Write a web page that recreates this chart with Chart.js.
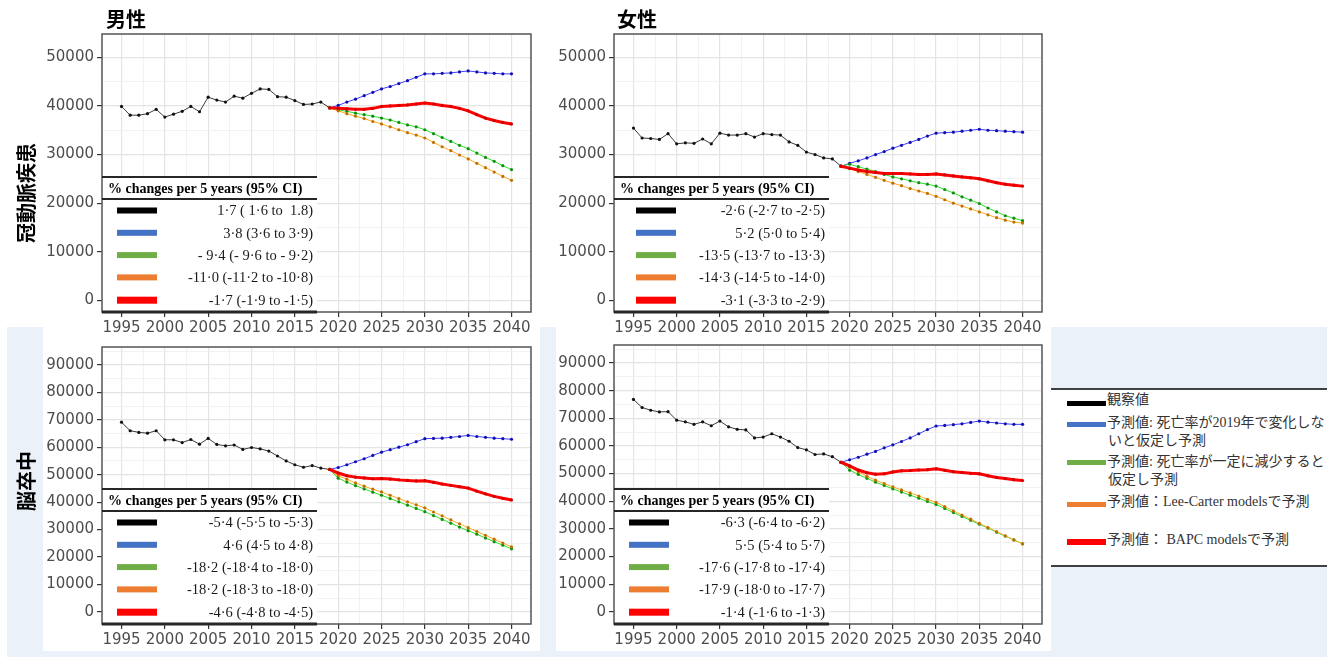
<!DOCTYPE html>
<html>
<head>
<meta charset="utf-8">
<script src="https://cdn.jsdelivr.net/npm/chart.js"></script>
<style>
  body { margin: 0; width: 1341px; height: 657px; position: relative; overflow: hidden; background: #fff; }
  .abs { position: absolute; }
  .blue { background: #eaf1f9; }
  .white { background: #fff; }
  .coltitle { font: bold 20px "Noto Sans CJK JP"; color: #000; line-height: 24px; }
  .rowlabel { font: bold 20px "Noto Sans CJK JP"; color: #000; white-space: nowrap; line-height: 24px;
              transform: translate(-50%, -50%) rotate(-90deg); }
  .rule { height: 2px; background: #404040; }
  .sw { width: 39px; height: 5px; }
  .lg { font: 14px "Liberation Serif", "Noto Sans CJK JP"; color: #333; white-space: nowrap; line-height: 18px; transform: translateY(-50%); }
</style>
</head>
<body>
<!-- backgrounds -->
<div class="abs blue" style="left:7px; top:327px; width:1320px; height:330px;"></div>
<div class="abs white" style="left:43px; top:327px; width:497px; height:324px;"></div>
<div class="abs white" style="left:556px; top:327px; width:495px; height:324px;"></div>
<div class="abs white" style="left:1051px; top:389px; width:276px; height:177px;"></div>

<!-- charts -->
<canvas id="c1" class="abs" style="left:0; top:0;" width="540" height="340"></canvas>
<canvas id="c2" class="abs" style="left:540px; top:0;" width="510" height="340"></canvas>
<canvas id="c3" class="abs" style="left:0; top:327px;" width="540" height="330"></canvas>
<canvas id="c4" class="abs" style="left:540px; top:327px;" width="510" height="330"></canvas>

<!-- titles -->
<div class="abs coltitle" style="left:106px; top:7px;">男性</div>
<div class="abs coltitle" style="left:617px; top:7px;">女性</div>
<div class="abs rowlabel" style="left:26px; top:193px;">冠動脈疾患</div>
<div class="abs rowlabel" style="left:26px; top:481px;">脳卒中</div>

<!-- legend -->
<div class="abs rule" style="left:1051px; top:388px; width:276px;"></div>
<div class="abs rule" style="left:1051px; top:565px; width:276px;"></div>
<div class="abs sw" style="left:1067px; top:401px; background:#000;"></div>
<div class="abs sw" style="left:1067px; top:422px; background:#4472c4;"></div>
<div class="abs sw" style="left:1067px; top:460px; background:#70ad47;"></div>
<div class="abs sw" style="left:1067px; top:502px; background:#ed7d31;"></div>
<div class="abs sw" style="left:1067px; top:539px; height:6px; background:#ff0000;"></div>
<div class="abs lg" style="left:1107px; top:400px;">観察値</div>
<div class="abs lg" style="left:1107px; top:423px;">予測値: 死亡率が2019年で変化しな</div>
<div class="abs lg" style="left:1108px; top:441px;">いと仮定し予測</div>
<div class="abs lg" style="left:1107px; top:462px;">予測値: 死亡率が一定に減少すると</div>
<div class="abs lg" style="left:1108px; top:480px;">仮定し予測</div>
<div class="abs lg" style="left:1107px; top:502px;">予測値：Lee-Carter modelsで予測</div>
<div class="abs lg" style="left:1107px; top:540px;">予測値： BAPC modelsで予測</div>

<script>
// years
const obsYears = [1995, 1996, 1997, 1998, 1999, 2000, 2001, 2002, 2003, 2004, 2005, 2006, 2007,
                  2008, 2009, 2010, 2011, 2012, 2013, 2014, 2015, 2016, 2017, 2018, 2019];
const projYears = [2019, 2020, 2021, 2022, 2023, 2024, 2025, 2026, 2027, 2028, 2029, 2030,
                   2031, 2032, 2033, 2034, 2035, 2036, 2037, 2038, 2039, 2040];
const xTicks = [1995, 1997.5, 2000, 2002.5, 2005, 2007.5, 2010, 2012.5, 2015, 2017.5, 2020,
                2022.5, 2025, 2027.5, 2030, 2032.5, 2035, 2037.5, 2040];
const yTicksChd = [0, 5000, 10000, 15000, 20000, 25000, 30000, 35000, 40000, 45000, 50000];
const yTicksStroke = [0, 5000, 10000, 15000, 20000, 25000, 30000, 35000, 40000, 45000, 50000,
                      55000, 60000, 65000, 70000, 75000, 80000, 85000, 90000, 95000];

// 男性 冠動脈疾患
const maleChdObs = [39900, 38100, 38100, 38400, 39300, 37700, 38300, 38900, 39900, 38800, 41800, 41200, 40800,
                    42000, 41600, 42600, 43500, 43400, 41900, 41800, 41100, 40300, 40400, 40800, 39600];
const maleChdFixed = [39600, 40100, 40800, 41400, 42100, 42800, 43500, 44000, 44600, 45200, 45900, 46600,
                      46600, 46700, 46800, 47000, 47200, 47000, 46800, 46700, 46600, 46600];
const maleChdDecline = [39600, 39200, 38900, 38500, 38200, 37900, 37500, 37100, 36600, 36100, 35700, 35100,
                        34300, 33500, 32700, 31900, 31200, 30300, 29400, 28600, 27700, 26900];
const maleChdLeeCarter = [39600, 39000, 38400, 37900, 37400, 36800, 36300, 35700, 35100, 34500, 34000, 33400,
                          32500, 31600, 30800, 29900, 29100, 28200, 27300, 26400, 25500, 24700];
const maleChdBapc = [39600, 39500, 39400, 39300, 39300, 39500, 39900, 40000, 40100, 40200, 40400, 40600,
                     40400, 40100, 39900, 39500, 39000, 38200, 37500, 37000, 36600, 36300];
const maleChdPct = ['1·7 ( 1·6 to  1.8)', '3·8 (3·6 to 3·9)', '- 9·4 (- 9·6 to - 9·2)',
                    '-11·0 (-11·2 to -10·8)', '-1·7 (-1·9 to -1·5)'];

// 女性 冠動脈疾患
const femaleChdObs = [35450, 33400, 33300, 33100, 34300, 32200, 32400, 32300, 33200, 32200, 34400, 34000, 34000,
                      34300, 33600, 34300, 34100, 34000, 32600, 31900, 30500, 30000, 29300, 29100, 27600];
const femaleChdFixed = [27600, 28200, 28700, 29300, 30000, 30600, 31300, 31900, 32500, 33100, 33800, 34400,
                        34500, 34600, 34800, 35000, 35200, 35000, 34900, 34800, 34700, 34600];
const femaleChdDecline = [27600, 28000, 27500, 27000, 26500, 25900, 25400, 25000, 24600, 24200, 23900, 23500,
                          22800, 22100, 21300, 20600, 19900, 19000, 18200, 17400, 16900, 16400];
const femaleChdLeeCarter = [27600, 27100, 26500, 25900, 25300, 24700, 24100, 23600, 23000, 22500, 22000, 21400,
                            20700, 20000, 19400, 18800, 18200, 17600, 17000, 16500, 16100, 15900];
const femaleChdBapc = [27600, 27200, 26800, 26500, 26300, 26100, 26100, 26100, 26000, 25900, 25900, 26000,
                       25800, 25600, 25400, 25200, 25000, 24600, 24200, 23900, 23700, 23500];
const femaleChdPct = ['-2·6 (-2·7 to -2·5)', '5·2 (5·0 to 5·4)', '-13·5 (-13·7 to -13·3)',
                      '-14·3 (-14·5 to -14·0)', '-3·1 (-3·3 to -2·9)'];

// 男性 脳卒中
const maleStrokeObs = [69100, 66000, 65400, 65100, 66000, 62700, 62700, 61700, 62800, 61100, 63200, 61000, 60500,
                       60800, 59200, 59900, 59400, 58600, 56800, 55000, 53600, 52700, 53300, 52400, 51900];
const maleStrokeFixed = [51900, 52600, 53600, 54700, 55800, 57000, 58200, 59100, 60000, 60900, 62000, 63100,
                         63200, 63300, 63600, 63900, 64300, 63900, 63600, 63300, 63100, 62900];
const maleStrokeDecline = [51900, 48700, 47300, 46000, 44800, 43600, 42500, 41300, 40100, 38900, 37700, 36500,
                           35100, 33700, 32300, 30900, 29600, 28300, 26900, 25600, 24300, 23000];
const maleStrokeLeeCarter = [51900, 49600, 48300, 47000, 45800, 44700, 43700, 42500, 41300, 40100, 39000, 37900,
                             36400, 35000, 33500, 32100, 30700, 29300, 27900, 26500, 25100, 23700];
const maleStrokeBapc = [51900, 50600, 49600, 49100, 48800, 48500, 48600, 48400, 48100, 47900, 47700, 47800,
                        47200, 46600, 46100, 45600, 45100, 44000, 43000, 42100, 41400, 40800];
const maleStrokePct = ['-5·4 (-5·5 to -5·3)', '4·6 (4·5 to 4·8)', '-18·2 (-18·4 to -18·0)',
                       '-18·2 (-18·3 to -18·0)', '-4·6 (-4·8 to -4·5)'];

// 女性 脳卒中
const femaleStrokeObs = [76800, 73900, 72900, 72300, 72400, 69300, 68700, 67800, 68700, 67300, 69000, 66900, 66000,
                         65800, 62900, 63200, 64400, 63200, 61700, 59400, 58600, 56900, 57100, 56100, 54100];
const femaleStrokeFixed = [54100, 55000, 55900, 57000, 58000, 59300, 60400, 61600, 62900, 64400, 65900, 67200,
                           67400, 67700, 68000, 68500, 69000, 68600, 68300, 68000, 67800, 67800];
const femaleStrokeDecline = [54100, 51200, 49700, 48300, 46900, 45700, 44500, 43300, 42200, 41100, 39900, 38800,
                             37400, 35900, 34500, 33100, 31700, 30300, 28800, 27400, 26000, 24600];
const femaleStrokeLeeCarter = [54100, 52300, 50600, 49000, 47600, 46400, 45200, 44100, 43000, 41900, 40700, 39600,
                               38100, 36500, 35000, 33500, 32000, 30500, 29000, 27500, 26000, 24600];
const femaleStrokeBapc = [54100, 52800, 51300, 50300, 49800, 49900, 50600, 51000, 51100, 51300, 51400, 51700,
                          51200, 50700, 50400, 50100, 49900, 49200, 48600, 48200, 47800, 47500];
const femaleStrokePct = ['-6·3 (-6·4 to -6·2)', '5·5 (5·4 to 5·7)', '-17·6 (-17·8 to -17·4)',
                         '-17·9 (-18·0 to -17·7)', '-1·4 (-1·6 to -1·3)'];

const swatchColors = ['#000000', '#4472c4', '#70ad47', '#ed7d31', '#ff0000'];

// frame around the panel + the "% changes" table in the lower left corner
const pctTable = {
  id: 'pctTable',
  afterDraw(chart, args, opts) {
    const ctx = chart.ctx, a = chart.chartArea;
    const w = 215, h = 136, x0 = a.left, y0 = a.bottom - h;
    ctx.save();
    ctx.fillStyle = '#fff';
    ctx.fillRect(x0, y0, w, h);
    ctx.strokeStyle = '#555';
    ctx.lineWidth = 1.5;
    ctx.strokeRect(a.left, a.top, a.right - a.left, a.bottom - a.top);

    const hline = (y, lw) => {
      ctx.lineWidth = lw;
      ctx.beginPath(); ctx.moveTo(x0, y); ctx.lineTo(x0 + w, y); ctx.stroke();
    };
    ctx.strokeStyle = '#262626';
    hline(y0 + 1, 2);
    hline(y0 + 23, 2);
    hline(a.bottom, 3);

    ctx.fillStyle = '#000';
    ctx.font = 'bold 14px "Liberation Serif"';
    ctx.textAlign = 'left';
    ctx.textBaseline = 'middle';
    ctx.fillText('% changes per 5 years (95% CI)', x0 + 6, y0 + 13);

    ctx.font = '14.5px "Liberation Serif"';
    ctx.textAlign = 'right';
    opts.rows.forEach((t, i) => {
      const cy = y0 + 34.5 + i * 22.3;
      ctx.fillStyle = swatchColors[i];
      ctx.fillRect(x0 + opts.swatchX, cy - 3, 40, i === 4 ? 7 : 6);
      ctx.fillStyle = '#1a1a1a';
      ctx.fillText(t, x0 + 211, cy + 1);
    });
    ctx.restore();
  }
};

function pts(xs, ys) {
  return ys.map((v, i) => ({ x: xs[i], y: v }));
}

function panel(id, s, pct, L) {
  const line = (data, color, dot, width, order) => ({
    data: data, borderColor: color, backgroundColor: dot, pointBackgroundColor: dot,
    borderWidth: width, pointRadius: 1.6, pointBorderWidth: 0, order: order, tension: 0
  });
  const isMajorX = c => c.tick && c.tick.value % 5 === 0;
  const isMajorY = c => c.tick && c.tick.value % 10000 === 0;
  return new Chart(document.getElementById(id), {
    type: 'line',
    data: {
      datasets: [
        line(pts(obsYears, s[0]), '#3a3a3a', '#111', 1, 5),
        line(pts(projYears, s[1]), '#4040ff', '#1010b0', 1, 4),
        line(pts(projYears, s[2]), '#30e030', '#109010', 1, 3),
        line(pts(projYears, s[3]), '#ffaa22', '#c07000', 1, 2),
        line(pts(projYears, s[4]), '#ff0000', '#d00000', 3, 1)
      ]
    },
    options: {
      responsive: false,
      animation: false,
      layout: { padding: { top: L.top, right: L.right, left: 0, bottom: 0 } },
      plugins: {
        legend: { display: false },
        tooltip: { enabled: false },
        pctTable: { rows: pct, swatchX: L.swatchX }
      },
      scales: {
        x: {
          type: 'linear', min: 1992.75, max: 2042.25,
          afterBuildTicks: sc => { sc.ticks = xTicks.map(v => ({ value: v })); },
          afterFit: sc => { sc.height = L.xh; },
          border: { display: false },
          grid: {
            color: c => isMajorX(c) ? '#e4e4e4' : '#efefef',
            lineWidth: c => isMajorX(c) ? 1.2 : 0.8,
            tickLength: 5,
            tickColor: c => isMajorX(c) ? '#333' : 'rgba(0,0,0,0)'
          },
          ticks: {
            autoSkip: false, maxRotation: 0, padding: 2, color: '#4d4d4d',
            font: { family: 'DejaVu Sans', size: 15 },
            callback: v => v % 5 === 0 ? String(v) : ''
          }
        },
        y: {
          min: L.ymin, max: L.ymax,
          afterBuildTicks: sc => { sc.ticks = L.yticks.map(v => ({ value: v })); },
          afterFit: sc => { sc.width = L.yw; },
          border: { display: false },
          grid: {
            color: c => isMajorY(c) ? '#e4e4e4' : '#efefef',
            lineWidth: c => isMajorY(c) ? 1.2 : 0.8,
            tickLength: 5,
            tickColor: c => isMajorY(c) ? '#333' : 'rgba(0,0,0,0)'
          },
          ticks: {
            autoSkip: false, padding: 3, color: '#4d4d4d',
            font: { family: 'DejaVu Sans', size: 15 },
            callback: v => v % 10000 === 0 ? String(v) : ''
          }
        }
      }
    },
    plugins: [pctTable]
  });
}

panel('c1', [maleChdObs, maleChdFixed, maleChdDecline, maleChdLeeCarter, maleChdBapc], maleChdPct,
  { top: 34, right: 9, yw: 102, xh: 28, ymin: -2400, ymax: 54800, yticks: yTicksChd, swatchX: 15 });
panel('c2', [femaleChdObs, femaleChdFixed, femaleChdDecline, femaleChdLeeCarter, femaleChdBapc], femaleChdPct,
  { top: 34, right: 8, yw: 74, xh: 28, ymin: -2400, ymax: 54800, yticks: yTicksChd, swatchX: 22 });
panel('c3', [maleStrokeObs, maleStrokeFixed, maleStrokeDecline, maleStrokeLeeCarter, maleStrokeBapc], maleStrokePct,
  { top: 20, right: 9, yw: 102, xh: 33, ymin: -4400, ymax: 96500, yticks: yTicksStroke, swatchX: 15 });
panel('c4', [femaleStrokeObs, femaleStrokeFixed, femaleStrokeDecline, femaleStrokeLeeCarter, femaleStrokeBapc], femaleStrokePct,
  { top: 18, right: 8, yw: 74, xh: 33, ymin: -4400, ymax: 96500, yticks: yTicksStroke, swatchX: 15 });
</script>
</body>
</html>
